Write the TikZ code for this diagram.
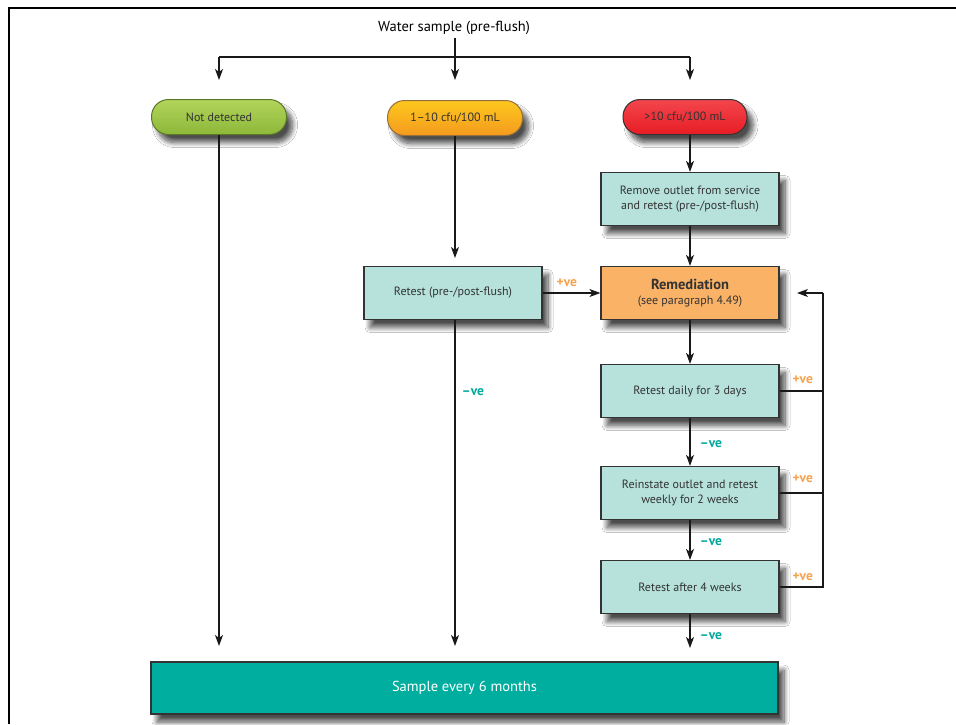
\documentclass[tikz,border=0pt]{standalone}
\usepackage{fontspec}
\setmainfont{PT Sans}
\usetikzlibrary{arrows.meta,shadows.blur}
\definecolor{boxteal}{HTML}{B6E2DB}
\definecolor{remorange}{HTML}{F9B266}
\definecolor{sampleteal}{HTML}{00AE9F}
\definecolor{posorange}{HTML}{F7A24E}
\definecolor{negteal}{HTML}{00A99D}
\definecolor{txtgray}{HTML}{333333}
\tikzset{
  myshadow/.style={blur shadow={shadow xshift=6pt, shadow yshift=-8pt, shadow blur steps=10, shadow blur radius=5pt, shadow opacity=70}},
  stepbox/.style={draw=txtgray, line width=1.2pt, fill=boxteal, minimum width=178pt, minimum height=53pt, align=center, text=txtgray, font=\fontsize{12}{15.5}\selectfont, inner sep=2pt, myshadow},
  pill/.style={draw=txtgray!80, line width=1pt, rounded corners=17pt, minimum width=135pt, minimum height=35pt, text=txtgray, font=\fontsize{12}{14}\selectfont, myshadow},
  conn/.style={line width=1.1pt, draw=black!90, -{Stealth[length=11pt,width=8pt,inset=3pt]}},
  plain/.style={line width=1.1pt, draw=black!90},
  poslbl/.style={text=posorange, font=\bfseries\fontsize{13.5}{15}\selectfont},
  neglbl/.style={text=negteal, font=\bfseries\fontsize{13.5}{15}\selectfont},
}
\begin{document}
\begin{tikzpicture}[x=1pt,y=-1pt]
\useasboundingbox (0,0) rectangle (956,724);
\fill[white] (0,0) rectangle (956,724);
% frame
\draw[line width=2.6pt] (8,8) -- (956,8);
\draw[line width=2pt] (9,7) -- (9,724);

% title
\node[font=\fontsize{14.5}{16}\selectfont, text=black] (title) at (454,28) {Water sample (pre-flush)};

% split coordinates
\coordinate (split) at (455,57);
\coordinate (t1) at (219,80);
\coordinate (t2) at (455,80);
\coordinate (t3) at (690,80);
\coordinate (rt) at (455,258);

% pills
\node[pill, top color={rgb,255:red,178;green,212;blue,90}, bottom color={rgb,255:red,141;green,184;blue,58}, draw={rgb,255:red,90;green,120;blue,40}] (nd) at (219,117) {Not detected};
\node[pill, top color={rgb,255:red,253;green,200;blue,30}, bottom color={rgb,255:red,244;green,154;blue,30}, draw={rgb,255:red,150;green,110;blue,60}] (low) at (455,118) {1–10 cfu/100 mL};
\node[pill, minimum width=124pt, top color={rgb,255:red,242;green,70;blue,76}, bottom color={rgb,255:red,232;green,28;blue,36}, draw=txtgray] (high) at (685,117) {>10 cfu/100 mL};

% boxes
\node[stepbox] (remove) at (690,199) {Remove outlet from service\\and retest (pre-/post-flush)};
\node[stepbox] (retest) at (453,293) {Retest (pre-/post-flush)};
\node[stepbox, fill=remorange] (remed) at (690,293) {{\bfseries\fontsize{14.5}{16}\selectfont Remediation}\\(see paragraph 4.49)};
\node[stepbox] (daily) at (690,391) {Retest daily for 3 days};
\node[stepbox] (reinst) at (690,493) {Reinstate outlet and retest\\weekly for 2 weeks};
\node[stepbox] (four) at (690,587) {Retest after 4 weeks};
\node[stepbox, fill=sampleteal, text=white, minimum width=627pt, minimum height=52pt, font=\fontsize{14.5}{16}\selectfont] (sample) at (464.5,688) {Sample every 6 months};

% bottom arrow ends
\coordinate (b1) at (219,646);
\coordinate (b2) at (455,646);
\coordinate (b3) at (690,648);
\coordinate (loopx) at (823,293);
\coordinate (loopend) at (797,293);

% top split
\draw[conn] (title.south -| split) -- (t2);
\draw[plain] (t1 |- split) -- (t3 |- split);
\draw[conn] (t1 |- split) -- (t1);
\draw[conn] (t3 |- split) -- (t3);

% columns
\draw[conn] (nd.south -| b1) -- (b1);
\draw[conn] (low.south -| t2) -- (rt);
\draw[conn] (high.south -| remove) -- (remove.north);
\draw[conn] (remove) -- (remed);
\draw[conn] (retest) -- node[poslbl, above, pos=0.42, yshift=2pt] {+ve} (remed);
\draw[conn] (retest.south -| b2) -- node[neglbl, right, pos=0.22, xshift=3pt] {–ve} (b2);
\draw[conn] (remed) -- (daily);
\draw[conn] (daily) -- node[neglbl, right, xshift=6pt, pos=0.55] {–ve} (reinst);
\draw[conn] (reinst) -- node[neglbl, right, xshift=6pt, pos=0.55] {–ve} (four);
\draw[conn] (four.south) -- node[neglbl, right, xshift=6pt, pos=0.65] {–ve} (b3);

% feedback loop
\draw[plain] (daily.east) -- (daily.east -| loopx);
\draw[plain] (reinst.east) -- (reinst.east -| loopx);
\draw[plain] (four.east) -- (four.east -| loopx) -- (loopx);
\draw[conn] (loopx) -- (loopend);
\node[poslbl, anchor=west] (p1) at (789,380) {+ve};
\node[poslbl, anchor=west] (p2) at (789,479) {+ve};
\node[poslbl, anchor=west] (p3) at (789,577) {+ve};
\end{tikzpicture}
\end{document}
